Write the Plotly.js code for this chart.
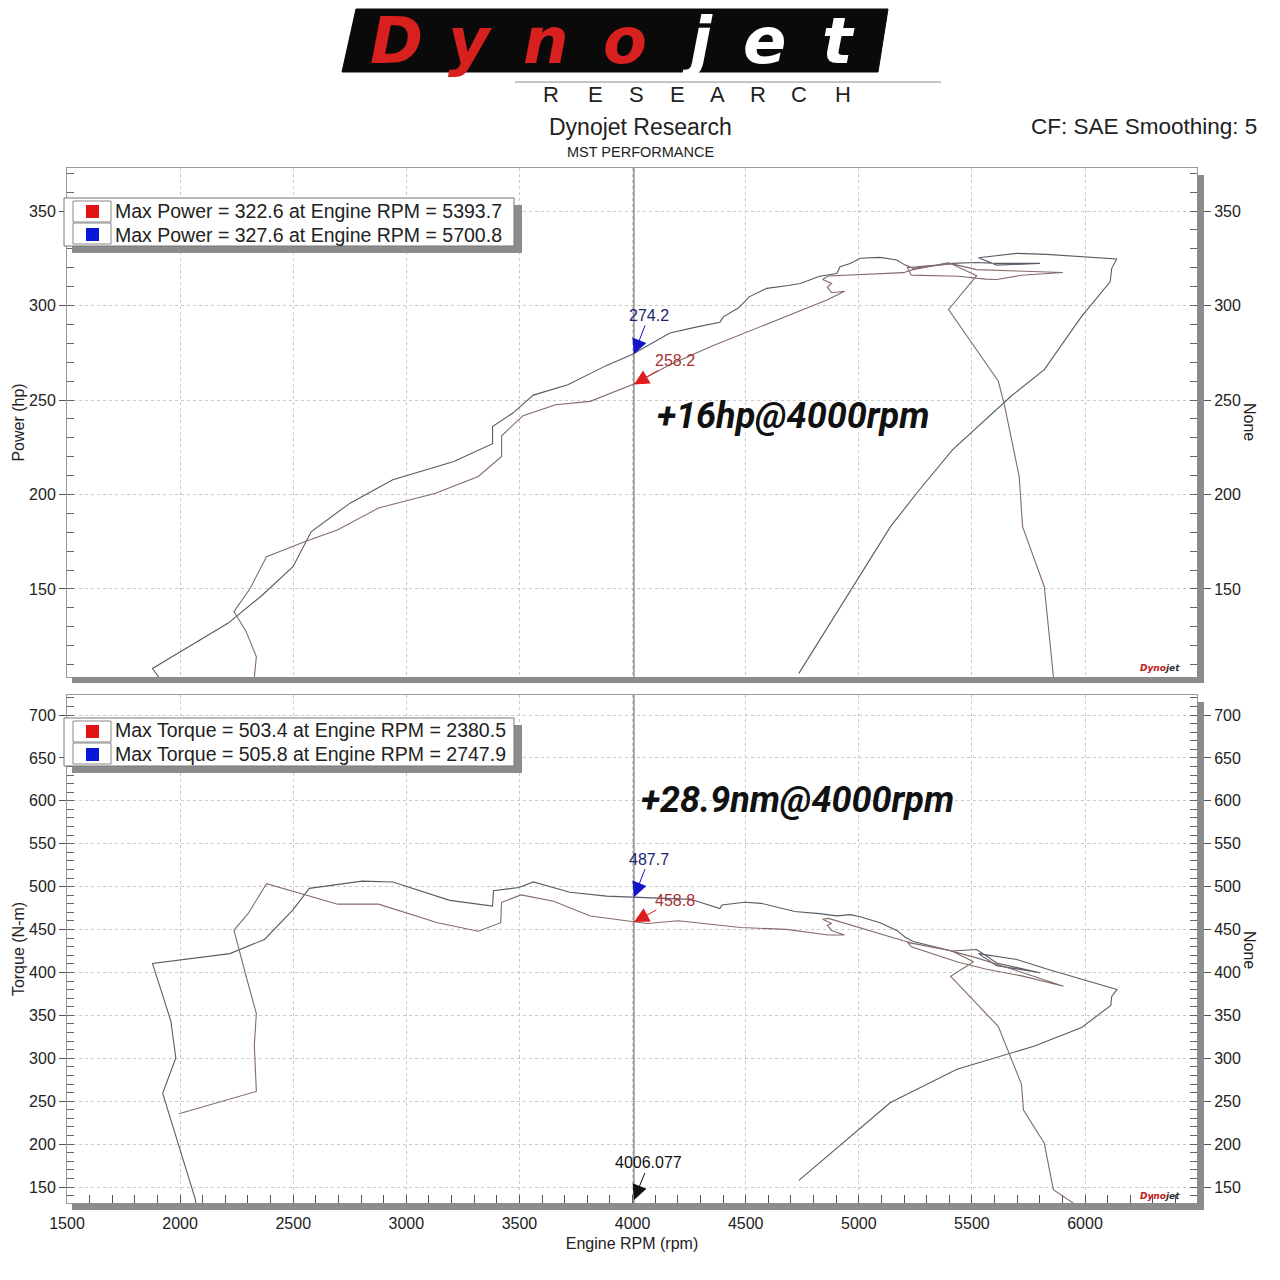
<!DOCTYPE html>
<html><head><meta charset="utf-8">
<script src="https://cdn.plot.ly/plotly-3.0.1.min.js"></script>
<style>body{margin:0;background:#fff}#chart{width:1280px;height:1280px}</style>
</head><body><div id="chart"></div>
<script>
// ---------------- data ----------------
const redPowerRpm = [1995,2337,2328,2337,2292,2238,2310,2382,2553,2697,2877,3129,3318,3421,3421,3516,3660,3813,4000,4165,4349,4496,4625,4754,4864,4937,4880,4861,4880,4840,4866,5197,5240,5394,5521,5700,5902,5720,5610,5560,5440,5232,5215,5300,5411,5521,5397,5617,5645,5709,5724,5820,5860,5865];
const redPowerHp  = [66,85.8,103.1,114.1,127.4,138,150.4,167.1,175.1,181.3,192.8,200.7,209.5,220.1,231.1,241.7,247.5,249.3,258.2,268.7,278.4,285.5,291.7,297.9,303.2,307.6,306.8,309.6,311.7,313.8,315.6,317.4,319,322.6,319,318.3,317.5,316,313.8,314,315.5,316.1,320,321,322,315.8,297.9,259.9,246.6,209.5,183,151.2,105.3,98];
const bluePowerRpm = [2067,1923,1981,1959,1878,2211,2364,2499,2580,2751,2940,3210,3381,3381,3471,3561,3714,3883,4000,4165,4285,4386,4401,4469,4515,4593,4689,4741,4827,4903,4917,4962,5006,5094,5168,5205,5241,5359,5411,5521,5610,5801,5610,5529,5698,5831,6140,6118,6111,5985,5820,5673,5415,5268,5140,4735];
const bluePowerHp  = [38,70,83.5,94.5,107.9,131.8,146.8,161.8,180.4,195.4,207.8,217.5,226.9,236,243.1,252.6,258.1,268.2,274.2,285.5,288.7,291.2,294,298.8,304.6,309.1,310.6,311.7,315.5,317,320.5,322.3,325,325.5,324.1,321.4,319.7,321.4,322.3,322.8,322.3,322.3,321.4,325.3,327.6,327.1,324.6,319.7,312.6,294.3,266.1,252,223.7,202.5,183,105.3];
const redTorqueRpm = [1995,2337,2328,2337,2292,2238,2301,2382,2697,2877,3138,3318,3417,3421,3507,3651,3813,4000,4064,4202,4478,4680,4864,4937,4880,4861,4880,4840,4866,5197,5240,5394,5521,5700,5905,5720,5610,5560,5440,5232,5215,5300,5411,5507,5406,5617,5719,5728,5820,5860,5957,5965];
const redTorqueNm  = [235.4,261.4,315.4,352.1,395.3,449.3,468.8,503.4,479.6,479.6,458,448,458,481.8,490.4,483,465.8,458.8,457.1,460.2,452.4,450.2,443.7,443.7,449,455,457,462,463,437,434,426,417,402,384,396,401.5,404,412,430,435,431,425,412.4,395.5,337,270,239.8,201,147,129.6,126];
const blueTorqueRpm = [2072,2067,1923,1981,1959,1878,2220,2373,2499,2571,2805,2940,3192,3381,3385,3435,3498,3561,3723,3885,4000,4257,4386,4395,4496,4570,4717,4826,4903,4962,5006,5094,5168,5205,5241,5359,5411,5521,5610,5801,5610,5529,5698,5831,6141,6118,6114,5985,5774,5434,5140,4735];
const blueTorqueNm  = [126,136,259.2,300.3,343.5,410.4,422,438.5,473,498,506.4,505.5,484,477.4,495.2,496.5,499,505.5,493.4,489,487.7,485.2,474.4,478.7,481.8,480.5,471,468.6,466,467.4,465,458,449,441,436,428,425,426.7,411,399.6,408,422,415.1,404,380.2,372,361.6,336,314,287.3,248.4,157.7];

const rpmTicks = [1500,2000,2500,3000,3500,4000,4500,5000,5500,6000];
const powerTicks = [150,200,250,300,350];
const torqueTicks = [150,200,250,300,350,400,450,500,550,600,650,700];
const powerLegend = ["Max Power = 322.6 at Engine RPM = 5393.7","Max Power = 327.6 at Engine RPM = 5700.8"];
const torqueLegend = ["Max Torque = 503.4 at Engine RPM = 2380.5","Max Torque = 505.8 at Engine RPM = 2747.9"];
const cursorRpm = 4006.077;
const cursorPower = [274.2, 258.2];   // blue run, red run
const cursorTorque = [487.7, 458.8];  // blue run, red run
const gainLabels = ["+16hp@4000rpm", "+28.9nm@4000rpm"];
const logoLetters = ["D","y","n","o","j","e","t"];
const researchLetters = ["R","E","S","E","A","R","C","H"];

// ---------------- layout helpers ----------------
const L=67, R=1197, T=168, B=1203;
const fx = p => (p-L)/(R-L);
const fy = p => (B-p)/(B-T);
const rpmRange=[1500,6495], powerRange=[103.4,372.8], torqueRange=[131.4,723.3];
const FONT='Liberation Sans, Arial, sans-serif';
const tickFont={family:FONT,size:16,color:'#222'};
const redRun='#866a6a', blueRun='#5a5a68';

const traces=[
 {x:bluePowerRpm,y:bluePowerHp,xaxis:'x',yaxis:'y',mode:'lines',line:{color:blueRun,width:1.1},hoverinfo:'skip'},
 {x:redPowerRpm,y:redPowerHp,xaxis:'x',yaxis:'y3',mode:'lines',line:{color:redRun,width:1.1},hoverinfo:'skip'},
 {x:blueTorqueRpm,y:blueTorqueNm,xaxis:'x2',yaxis:'y2',mode:'lines',line:{color:blueRun,width:1.1},hoverinfo:'skip'},
 {x:redTorqueRpm,y:redTorqueNm,xaxis:'x2',yaxis:'y4',mode:'lines',line:{color:redRun,width:1.1},hoverinfo:'skip'}
];

const gridX={showgrid:true,gridcolor:'#c9c9c9',griddash:'dot',gridwidth:1,zeroline:false};
const leftY=(range,vals,title,domain,anchor)=>({domain,anchor,range,tickmode:'array',tickvals:vals,ticks:'outside',ticklen:7,tickcolor:'#555',
  minor:{ticks:'inside',tickmode:'linear',tick0:0,dtick:10,ticklen:7,tickcolor:'#666',showgrid:false},
  showline:true,mirror:true,linecolor:'#9a9a9a',tickfont:tickFont,...gridX,
  title:{text:title,font:{family:FONT,size:16,color:'#222'},standoff:0}});
const rightY=(range,vals,over,anchor)=>({overlaying:over,anchor,side:'right',range,tickmode:'array',tickvals:vals,ticks:'outside',ticklen:13,tickcolor:'#555',
  minor:{ticks:'inside',tickmode:'linear',tick0:0,dtick:10,ticklen:7,tickcolor:'#666',showgrid:false},
  showline:false,showgrid:false,zeroline:false,tickfont:tickFont});

const topDom=[fy(677),1], botDom=[0,fy(695)];

const shapes=[];
const rect=(x0,y0,x1,y1,fill,line)=>shapes.push({type:'rect',xref:'paper',yref:'paper',x0:fx(x0),x1:fx(x1),y0:fy(y1),y1:fy(y0),fillcolor:fill,line:line||{width:0}});
// plot shadows
rect(1197,175,1204,683,'#8c8c8c'); rect(72,677,1204,683,'#8c8c8c');
rect(1197,702,1204,1210,'#8c8c8c'); rect(72,1203,1204,1210,'#8c8c8c');
// cursor lines
shapes.push({type:'line',xref:'x',yref:'y domain',x0:cursorRpm,x1:cursorRpm,y0:0,y1:1,line:{color:'#555',width:1}});
shapes.push({type:'line',xref:'x2',yref:'y2 domain',x0:cursorRpm,x1:cursorRpm,y0:0,y1:1,line:{color:'#555',width:1}});
// legend boxes
function legendBox(top){
  rect(72,top+7,522,top+55,'#8c8c8c');
  rect(64,top,514,top+48,'#ffffff',{color:'#777',width:1});
  rect(73,top+3,111,top+24,'#ffffff',{color:'#888',width:1});
  rect(73,top+25,111,top+46,'#ffffff',{color:'#888',width:1});
  rect(86,top+7,99,top+20,'#e01212');
  rect(86,top+30,99,top+43,'#0a16d6');
}
legendBox(198);
legendBox(718);
// logo backdrop
shapes.push({type:'path',xref:'paper',yref:'paper',
  path:`M ${fx(356)},${fy(9)} L ${fx(888)},${fy(9)} L ${fx(878)},${fy(72)} L ${fx(342)},${fy(72)} Z`,
  fillcolor:'#0a0a0a',line:{color:'#0a0a0a',width:1}});
shapes.push({type:'line',xref:'paper',yref:'paper',x0:fx(515),x1:fx(941),y0:fy(82),y1:fy(82),line:{color:'#8a8a8a',width:1}});

const ann=[];
const txt=(t,x,y,size,opt)=>ann.push(Object.assign({text:t,xref:'paper',yref:'paper',x:fx(x),y:fy(y),showarrow:false,xanchor:'center',yanchor:'middle',font:{family:FONT,size,color:'#222'}},opt||{}));
txt('Dynojet Research',640,127,23);
txt('MST PERFORMANCE',640,152,14.5);
txt('CF: SAE Smoothing: 5',1259,127,22.5,{xanchor:'right'});
const logoX=[396,470,546,625,697,764,838];
logoLetters.forEach((c,i)=>txt('<b><i>'+c+'</i></b>',logoX[i],41,64,{font:{family:'DejaVu Sans, sans-serif',size:64,color:i<4?'#d8201f':'#ffffff'}}));
const resX=[551,595,636,677,717,758,799,843];
researchLetters.forEach((c,i)=>txt(c,resX[i],94,22,{font:{family:FONT,size:22,color:'#222'}}));
powerLegend.forEach((t,i)=>txt(t,113,211+i*24,19.5,{xanchor:'left'}));
torqueLegend.forEach((t,i)=>txt(t,113,730+i*24,19.5,{xanchor:'left'}));
txt('<b><i>'+gainLabels[0]+'</i></b>',793,416,36,{font:{family:'Roboto, sans-serif',size:36,color:'#111'}});
txt('<b><i>'+gainLabels[1]+'</i></b>',797,800,36,{font:{family:'Roboto, sans-serif',size:36,color:'#111'}});
txt('None',1250,422,16,{textangle:90});
txt('None',1250,950,16,{textangle:90});
const miniLogo='<b><i><span style="color:#c01818">Dyno</span>jet</i></b>';
txt(miniLogo,1160,668,9,{font:{family:'DejaVu Sans, sans-serif',size:9,color:'#333'}});
txt(miniLogo,1160,1196,9,{font:{family:'DejaVu Sans, sans-serif',size:9,color:'#333'}});

const arrowAnn=(xr,yr,x,y,text,color,head,ax,ay)=>ann.push({xref:xr,yref:yr,x,y,text,showarrow:true,arrowhead:2,arrowsize:3,arrowwidth:1,arrowcolor:head,standoff:0,ax,ay,font:{family:FONT,size:16,color}});
arrowAnn('x','y',cursorRpm,cursorPower[0],String(cursorPower[0]),'#1c2670','#1414c8',15,-39);
arrowAnn('x','y3',cursorRpm,cursorPower[1],String(cursorPower[1]),'#a83232','#e01c1c',41,-24);
arrowAnn('x2','y2',cursorRpm,cursorTorque[0],String(cursorTorque[0]),'#1c2670','#1414c8',15,-38);
arrowAnn('x2','y4',cursorRpm,cursorTorque[1],String(cursorTorque[1]),'#a83232','#e01c1c',41,-22);
arrowAnn('x2','y2',cursorRpm,135,String(cursorRpm),'#111','#111',15,-37);

const layout={
  width:1280,height:1280,margin:{l:L,r:1280-R,t:T,b:1280-B},
  paper_bgcolor:'#ffffff',plot_bgcolor:'#ffffff',showlegend:false,
  xaxis:{domain:[0,1],anchor:'y',range:rpmRange,tickmode:'array',tickvals:rpmTicks,showticklabels:false,ticks:'',showline:true,mirror:true,linecolor:'#9a9a9a',...gridX},
  yaxis:leftY(powerRange,powerTicks,'Power (hp)',topDom,'x'),
  yaxis3:rightY(powerRange,powerTicks,'y','x'),
  xaxis2:{domain:[0,1],anchor:'y2',range:rpmRange,tickmode:'array',tickvals:rpmTicks,ticks:'inside',ticklen:8,tickcolor:'#555',
    minor:{ticks:'inside',tickmode:'linear',tick0:0,dtick:100,ticklen:8,tickcolor:'#555',showgrid:false},
    showline:true,mirror:true,linecolor:'#9a9a9a',tickfont:tickFont,ticklabelstandoff:6,...gridX,
    title:{text:'Engine RPM (rpm)',font:{family:FONT,size:16,color:'#222'},standoff:6}},
  yaxis2:leftY(torqueRange,torqueTicks,'Torque (N-m)',botDom,'x2'),
  yaxis4:rightY(torqueRange,torqueTicks,'y2','x2'),
  shapes,annotations:ann
};
Plotly.newPlot('chart',traces,layout,{displayModeBar:false,staticPlot:true});
</script></body></html>
